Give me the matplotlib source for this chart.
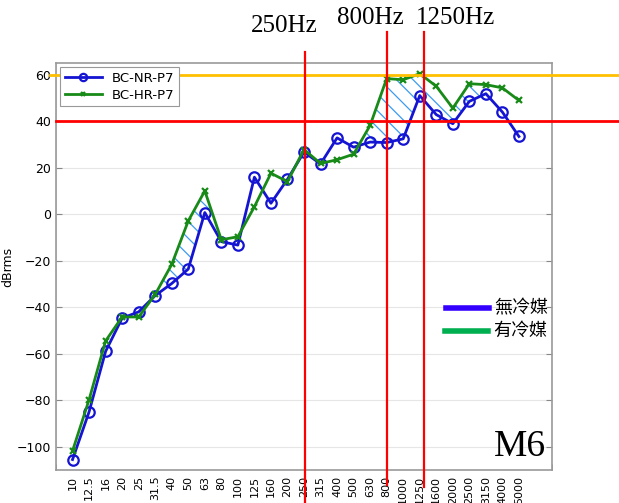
import numpy as np
import matplotlib
matplotlib.use('Agg')
import matplotlib.pyplot as plt
from matplotlib.lines import Line2D
import matplotlib.transforms as mtransforms

# 1/3 octave bands
bands = ['10', '12.5', '16', '20', '25', '31.5', '40', '50', '63', '80', '100',
         '125', '160', '200', '250', '315', '400', '500', '630', '800', '1000',
         '1250', '1600', '2000', '2500', '3150', '4000', '5000']

nr_p7 = [-105.5, -85, -59, -44.7, -42, -35, -29.8, -23.6, 0.7, -11.8, -13.3,
         15.9, 4.7, 15, 26.7, 21.6, 32.8, 28.8, 31, 30.8, 32.4,
         51, 42.8, 38.9, 48.5, 51.8, 43.9, 33.4]

hr_p7 = [-101.8, -79.8, -54.5, -44.2, -44.2, -34.5, -21.6, -2.9, 10, -11, -9.7,
         3.2, 17.6, 14, 27.8, 21.8, 23.4, 25.8, 38.2, 58.3, 57.8,
         60.4, 55, 45.6, 56.1, 55.7, 54.3, 48.9]

hatch_spans = [('40', '63'), ('630', '3150')]
marked_bands = ['250', '800', '1250']
level_high = 60
level_low = 40

x = np.arange(1, len(bands) + 1)
nr = np.array(nr_p7)
hr = np.array(hr_p7)

plt.rcParams['hatch.linewidth'] = 0.9
plt.rcParams['hatch.color'] = '#3d9bf0'

fig = plt.figure(figsize=(6.19, 5.03), dpi=100)
ax = fig.add_axes([56 / 619, 1 - 470 / 503, 496 / 619, 407 / 503])

# hatched area between curves
mask = np.zeros(len(bands), dtype=bool)
for a, b in hatch_spans:
    mask[bands.index(a):bands.index(b) + 1] = True
ax.fill_between(x, nr, hr, where=mask & (hr >= nr), interpolate=True,
                facecolor='none', edgecolor='#3d9bf0', hatch='\\\\', linewidth=0)

ax.plot(x, nr, color='#1414d2', lw=2, marker='o', ms=7.5, mfc='none', mew=1.6,
        label='BC-NR-P7', zorder=3)
ax.plot(x, hr, color='#178a17', lw=2, marker='x', ms=5, mew=1.6,
        label='BC-HR-P7', zorder=3)

ax.set_xlim(0, 30)
ax.set_ylim(-110, 65)
ax.set_yticks(np.arange(-100, 61, 20))
ax.set_xticks(x)
ax.set_xticklabels(bands, rotation=90, fontsize=8)
ax.tick_params(axis='x', which='major', length=0, pad=4)
ax.set_xticks(np.arange(0, 31, 5), minor=True)
ax.tick_params(axis='x', which='minor', direction='in', length=4, color='#888888')
ax.tick_params(axis='y', direction='in', length=4, color='#888888', labelsize=9,
               right=True)
ax.grid(False)
ax.grid(True, which='minor', axis='x', color='#e6e6e6', lw=0.8)
ax.grid(True, which='major', axis='y', color='#e6e6e6', lw=0.8)
ax.set_axisbelow(True)
for s in ax.spines.values():
    s.set_color('#999999')
    s.set_linewidth(1.2)
ax.set_ylabel('dBrms', fontsize=9, labelpad=2)

leg = ax.legend(loc='upper left', fontsize=9.5, fancybox=False, framealpha=1,
                edgecolor='#999999', borderaxespad=0.3, handlelength=2.8,
                borderpad=0.35, labelspacing=0.3, markerscale=0.7)
leg.get_frame().set_linewidth(0.8)

# reference level lines
trans_h = mtransforms.blended_transform_factory(ax.transAxes, ax.transData)
ax.plot([-0.012, 1.14], [level_high, level_high], transform=trans_h,
        color='#ffc000', lw=2, clip_on=False, zorder=5)
ax.plot([0, 1.14], [level_low, level_low], transform=trans_h,
        color='#ff0000', lw=2, clip_on=False, zorder=5)

trans_v = mtransforms.blended_transform_factory(ax.transData, ax.transAxes)
v_extent = {'250': (1.027, -0.081), '800': (1.076, -0.038), '1250': (1.076, -0.042)}
v_offset = {'250': 0.07, '800': 0.0, '1250': 0.25}
for b in marked_bands:
    xv = x[bands.index(b)] + v_offset[b]
    top, bot = v_extent[b]
    ax.plot([xv, xv], [bot, top], transform=trans_v, color='#ff0000', lw=1.6,
            clip_on=False, zorder=5)

serif = 'Liberation Serif'
fig.text(284 / 619, 1 - 32 / 503, '250Hz', family=serif, fontsize=18,
         ha='center', va='baseline')
fig.text(370 / 619, 1 - 24 / 503, '800Hz', family=serif, fontsize=18,
         ha='center', va='baseline')
fig.text(455 / 619, 1 - 24 / 503, '1250Hz', family=serif, fontsize=18,
         ha='center', va='baseline')

# chinese legend
cjk = ['Noto Sans CJK TC', 'DejaVu Sans']
fig.add_artist(Line2D([446 / 619, 489 / 619], [1 - 308 / 503] * 2,
                      color='#3300ff', lw=4))
fig.add_artist(Line2D([445 / 619, 488 / 619], [1 - 331 / 503] * 2,
                      color='#00b050', lw=4))
fig.text(494 / 619, 1 - 308 / 503, '無冷媒', family=cjk, fontsize=13, va='center')
fig.text(493 / 619, 1 - 331 / 503, '有冷媒', family=cjk, fontsize=13, va='center')

fig.text(520 / 619, 1 - 456 / 503, 'M6', family=serif, fontsize=27,
         ha='center', va='baseline')

fig.savefig('out.png', dpi=100, facecolor='white')
